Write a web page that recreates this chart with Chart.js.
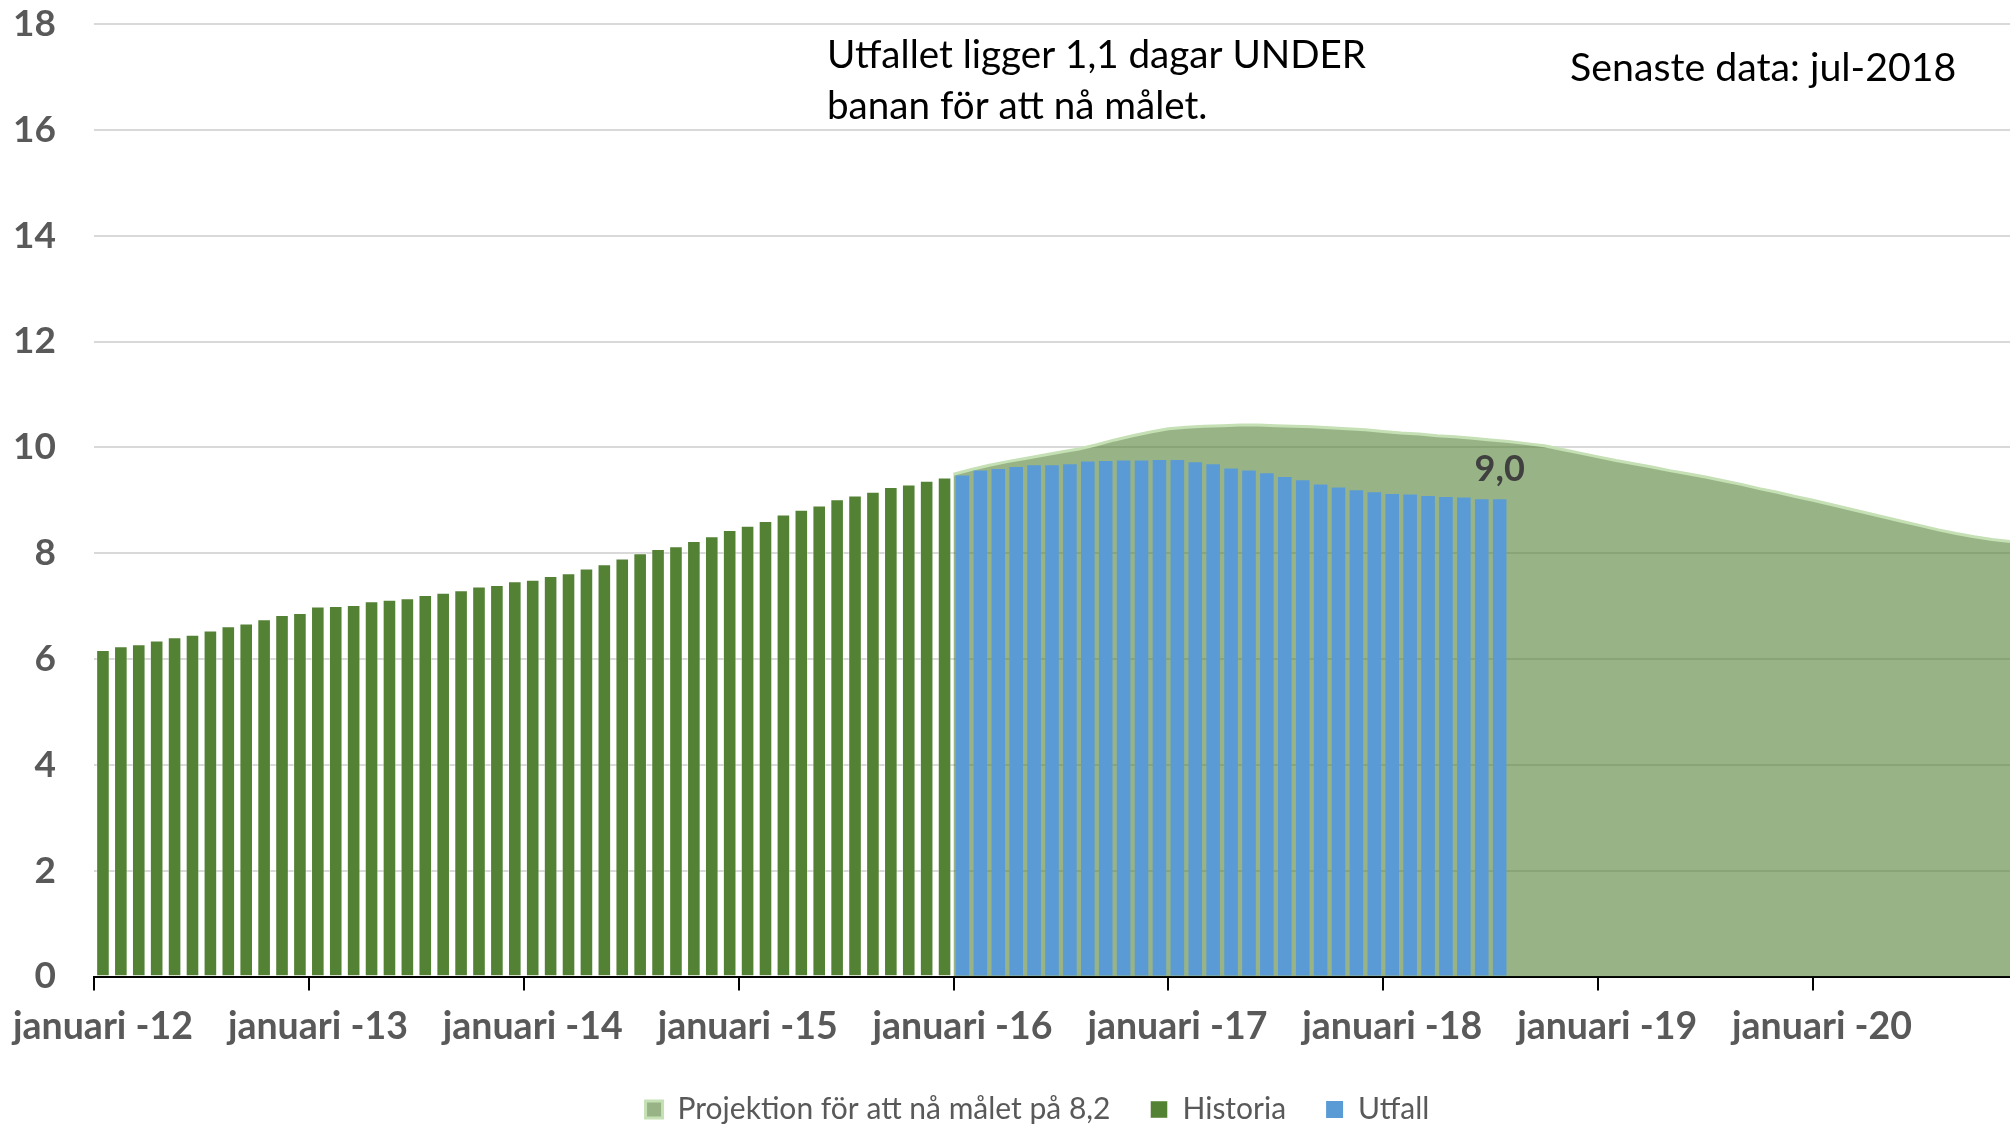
<!DOCTYPE html>
<html>
<head>
<meta charset="utf-8">
<script src="https://cdn.jsdelivr.net/npm/chart.js@4.4.1/dist/chart.umd.min.js"></script>
<style>
  html, body { margin: 0; padding: 0; background: #ffffff; overflow: hidden; }
  #wrap { width: 2010px; height: 1125px; position: relative; }
</style>
</head>
<body>
<div id="wrap"><canvas id="c" width="2010" height="1125"></canvas></div>
<script>
// ---- data (monthly, first month = januari 2012) ----
const tickLabels = ['januari -12', 'januari -13', 'januari -14', 'januari -15', 'januari -16',
                    'januari -17', 'januari -18', 'januari -19', 'januari -20'];
const monthsPerTick = 12;

// Historia: jan 2012 – dec 2015
const historiaStart = 0;
const historia = [
  6.17, 6.24, 6.28, 6.35, 6.41, 6.46, 6.54, 6.62, 6.67, 6.75, 6.83, 6.87,
  6.99, 7.00, 7.02, 7.09, 7.12, 7.15, 7.21, 7.25, 7.30, 7.37, 7.40, 7.47,
  7.50, 7.57, 7.62, 7.71, 7.79, 7.90, 8.00, 8.08, 8.13, 8.23, 8.32, 8.44,
  8.52, 8.61, 8.73, 8.82, 8.90, 9.02, 9.09, 9.16, 9.25, 9.30, 9.37, 9.43
];

// Utfall: jan 2016 – jul 2018
const utfallStart = 48;
const utfall = [
  9.47, 9.56, 9.59, 9.63, 9.66, 9.66, 9.68, 9.73, 9.74, 9.75, 9.75, 9.76,
  9.76, 9.72, 9.68, 9.60, 9.56, 9.51, 9.44, 9.38, 9.30, 9.24, 9.19, 9.15,
  9.12, 9.11, 9.08, 9.06, 9.05, 9.02, 9.02
];

// Projektion för att nå målet på 8,2: jan 2016 – dec 2020
const projStart = 48;
const projektion = [
  9.49, 9.58, 9.66, 9.73, 9.79, 9.85, 9.91, 9.97, 10.05, 10.14, 10.22, 10.29,
  10.35, 10.38, 10.40, 10.41, 10.42, 10.42, 10.41, 10.40, 10.39, 10.37, 10.35, 10.33,
  10.30, 10.27, 10.25, 10.22, 10.20, 10.17, 10.14, 10.11, 10.07, 10.03, 9.96, 9.89,
  9.82, 9.75, 9.69, 9.63, 9.56, 9.50, 9.44, 9.37, 9.30, 9.22, 9.15, 9.07,
  9.00, 8.92, 8.84, 8.76, 8.68, 8.60, 8.52, 8.44, 8.37, 8.31, 8.26, 8.22
];

const seriesNames = ['Projektion för att nå målet på 8,2', 'Historia', 'Utfall'];
const noteLines = ['Utfallet ligger 1,1 dagar UNDER', 'banan för att nå målet.'];
const latestNote = 'Senaste data: jul-2018';

// ---- build library data ----
const toBars = (arr, start) => arr.map((v, i) => ({ x: start + i + 0.5, y: v }));
const toLine = (arr, start) => arr.map((v, i) => ({ x: start + i, y: v }));

const FONT = 'Lato';

const notesPlugin = {
  id: 'notes',
  afterDatasetsDraw(chart) {
    const ctx = chart.ctx;
    const meta = chart.getDatasetMeta(2);
    const el = meta.data[meta.data.length - 1];
    const v = utfall[utfall.length - 1];
    ctx.save();
    ctx.font = 'bold 36px ' + FONT;
    ctx.fillStyle = '#404040';
    ctx.textAlign = 'center';
    ctx.textBaseline = 'alphabetic';
    ctx.fillText(v.toFixed(1).replace('.', ','), el.x, el.y - 18);
    ctx.restore();
  },
  afterDraw(chart) {
    const ctx = chart.ctx;
    ctx.save();
    ctx.fillStyle = '#000000';
    ctx.textAlign = 'left';
    ctx.textBaseline = 'middle';
    ctx.font = '38.6px ' + FONT;
    ctx.fillText(noteLines[0], 827, 56);
    ctx.fillText(noteLines[1], 827, 107);
    ctx.font = '39.3px ' + FONT;
    ctx.fillText(latestNote, 1570, 68);
    ctx.restore();
  }
};

new Chart(document.getElementById('c'), {
  type: 'bar',
  data: {
    datasets: [
      {
        type: 'line',
        label: seriesNames[0],
        data: toLine(projektion, projStart),
        backgroundColor: 'rgba(84,130,53,0.6)',
        borderColor: '#c5e0b4',
        borderWidth: 3,
        pointRadius: 0,
        tension: 0,
        fill: 'origin',
        order: 2
      },
      {
        label: seriesNames[1],
        data: toBars(historia, historiaStart),
        backgroundColor: '#548235',
        borderColor: 'rgba(255,255,255,0.45)',
        borderWidth: 1,
        grouped: false,
        barPercentage: 0.76,
        categoryPercentage: 1,
        order: 1
      },
      {
        label: seriesNames[2],
        data: toBars(utfall, utfallStart),
        backgroundColor: '#5b9bd5',
        borderWidth: 0,
        grouped: false,
        barPercentage: 0.76,
        categoryPercentage: 1,
        order: 1
      }
    ]
  },
  options: {
    responsive: false,
    animation: false,
    devicePixelRatio: 1,
    layout: { padding: { left: 65, right: 0, top: 24, bottom: -9.5 } },
    plugins: {
      tooltip: { enabled: false },
      legend: {
        position: 'bottom',
        labels: {
          sort: (a, b) => a.datasetIndex - b.datasetIndex,
          boxWidth: 17,
          boxHeight: 17,
          padding: 40,
          color: '#595959',
          font: { family: FONT, size: 30 }
        }
      }
    },
    scales: {
      x: {
        type: 'linear',
        min: 0,
        max: 107,
        offset: false,
        z: 1,
        afterBuildTicks: (s) => { s.ticks = tickLabels.map((_, i) => ({ value: i * monthsPerTick })); },
        afterFit: (s) => { s.height = 78; s.paddingLeft = 0; s.paddingRight = 0; },
        ticks: {
          autoSkip: false,
          maxRotation: 0,
          labelOffset: 9,
          padding: 14,
          color: '#595959',
          font: { family: FONT, size: 37.5, weight: 'bold' },
          callback: (value, index) => tickLabels[index]
        },
        grid: { offset: false, drawOnChartArea: false, drawTicks: true, tickLength: 14, color: '#000000', lineWidth: 2 },
        border: { display: true, color: '#000000', width: 2 }
      },
      y: {
        min: 0,
        max: 18,
        afterFit: (s) => {
          s.width = 29; s.paddingTop = 0; s.paddingBottom = 0;
          s._computeLabelArea = () => null; // let labels extend left of the axis box
        },
        ticks: {
          stepSize: 2,
          padding: 38,
          color: '#595959',
          font: { family: FONT, size: 37, weight: 'bold' }
        },
        grid: { color: '#d9d9d9', lineWidth: 2, drawTicks: false },
        border: { display: false }
      }
    }
  },
  plugins: [notesPlugin]
});
</script>
</body>
</html>
